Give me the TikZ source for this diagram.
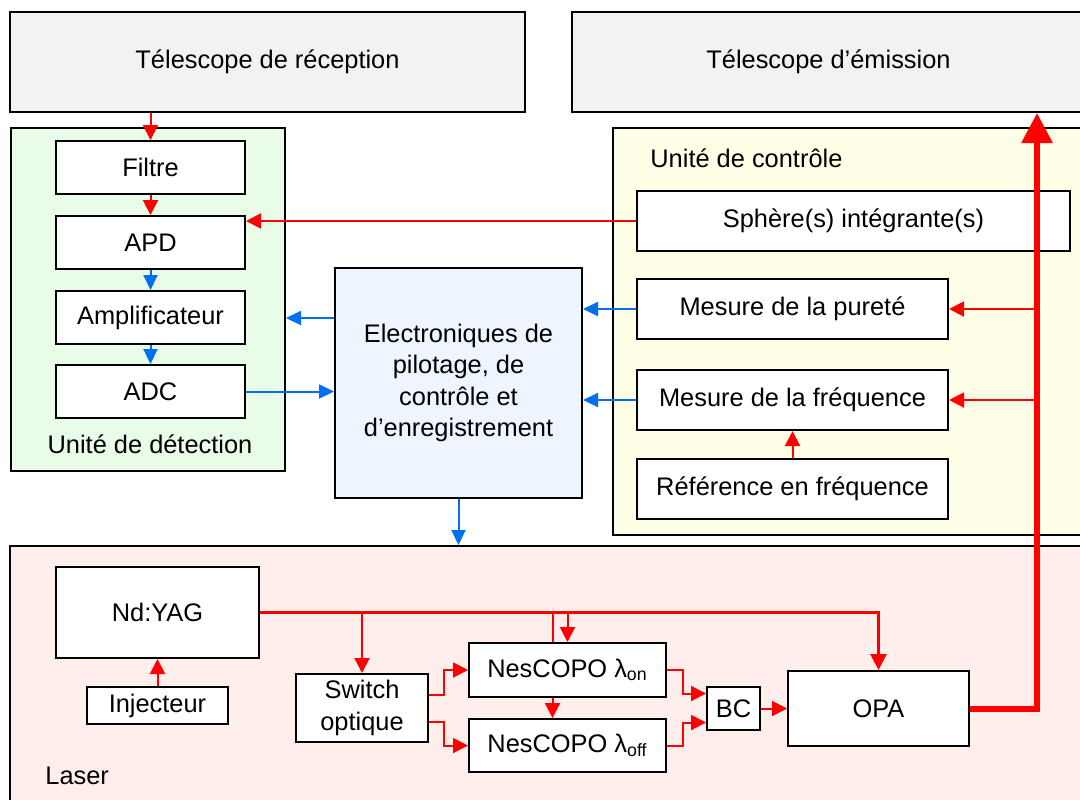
\documentclass[tikz,border=0pt]{standalone}
\usepackage{fontspec}
\setmainfont{Liberation Sans}
\usetikzlibrary{arrows.meta,calc}
\definecolor{rouge}{RGB}{255,0,0}
\definecolor{bleu}{RGB}{0,112,240}
\definecolor{gristel}{RGB}{242,242,242}
\definecolor{vertdet}{RGB}{232,252,232}
\definecolor{jaunectl}{RGB}{255,255,232}
\definecolor{bleuelec}{RGB}{238,245,255}
\definecolor{roselas}{RGB}{255,238,235}
\tikzset{
  blk/.style={draw, fill=white, line width=1pt, inner sep=0pt, align=center},
  unit/.style={draw, line width=1pt, inner sep=0pt},
  rln/.style={draw=rouge, line width=1pt},
  rfl/.style={rln, -{Triangle[length=7.5pt,width=7.5pt]}},
  bfl/.style={draw=bleu, line width=1pt, -{Triangle[length=7.5pt,width=7pt]}}
}

\begin{document}
\begin{tikzpicture}[x=0.5pt, y=-0.5pt, font=\fontsize{12.7}{15.7}\selectfont]
\clip (0,0) rectangle (1080,799);
\node[unit, fill=gristel, minimum width=257.5pt, minimum height=50pt] (telR) at (267.5,62) {Télescope de réception};
\node[unit, fill=gristel, minimum width=256.5pt, minimum height=50pt] (telE) at (828.5,62) {Télescope d’émission};
\node[unit, fill=vertdet, minimum width=137pt, minimum height=171.5pt] (det) at (148,299.5) {};
\node[unit, fill=jaunectl, minimum width=236pt, minimum height=203.5pt] (ctrl) at (849,331.5) {};
\node[unit, fill=roselas, minimum width=537.5pt, minimum height=132pt] (laser) at (547.5,678) {};
\node[unit, fill=bleuelec, minimum width=123.5pt, minimum height=115pt, align=center] (elec) at (458.5,383)
  {Electroniques de\\pilotage, de\\contrôle et\\d’enregistrement};

\node (detlbl) at (150,444) {Unité de détection};
\node[anchor=west, inner sep=0pt] (ctrllbl) at (650,158) {Unité de contrôle};
\node[anchor=west, inner sep=0pt] (laslbl) at (45,776) {Laser};

\foreach \nm/\txt/\yy in {filtre/Filtre/167.5, apd/APD/242.5, ampli/Amplificateur/317.5, adc/ADC/391.5}
  \node[blk, minimum width=94.5pt, minimum height=26.5pt] (\nm) at (150.5,\yy) {\txt};

\node[blk, minimum width=216.5pt, minimum height=30pt] (sphere) at (853.5,221) {Sphère(s) intégrante(s)};
\node[blk, minimum width=155.5pt, minimum height=30pt] (purete) at (792.5,309) {Mesure de la pureté};
\node[blk, minimum width=155.5pt, minimum height=30pt] (freq) at (792.5,400) {Mesure de la fréquence};
\node[blk, minimum width=155.5pt, minimum height=30pt] (ref) at (792.5,489) {Référence en fréquence};

\node[blk, minimum width=101.5pt, minimum height=45.5pt] (yag) at (157.5,612.5) {Nd:YAG};
\node[blk, minimum width=70.5pt, minimum height=18.5pt] (inj) at (157.5,705.5) {Injecteur};
\node[blk, minimum width=66pt, minimum height=34pt] (sw) at (362,708) {Switch\\optique};
\node[blk, minimum width=98.5pt, minimum height=27pt] (nesOn) at (567.5,670) {NesCOPO λ\textsubscript{on}};
\node[blk, minimum width=98.5pt, minimum height=26.5pt] (nesOff) at (567.5,745.5) {NesCOPO λ\textsubscript{off}};
\node[blk, minimum width=26.5pt, minimum height=21.5pt] (bc) at (733.5,708.5) {BC};
\node[blk, minimum width=90.5pt, minimum height=37.5pt] (opa) at (878.5,708.5) {OPA};

% detection
\draw[rfl] (telR.south -| filtre.north) -- (filtre.north);
\draw[rfl] (filtre.south) -- (apd.north);
\draw[bfl] (apd.south) -- (ampli.north);
\draw[bfl] (ampli.south) -- (adc.north);
\draw[bfl] (adc.east) -- (adc.east -| elec.west);
\draw[bfl] ([yshift=32.5pt]elec.west) -- ([yshift=32.5pt]elec.west -| det.east);
\draw[bfl] (elec.south) -- (elec.south |- laser.north);

% controle
\draw[rfl] (sphere.west) -- (sphere.west -| apd.east);
\draw[bfl] (purete.west) -- (purete.west -| elec.east);
\draw[bfl] (freq.west) -- (freq.west -| elec.east);
\draw[rfl] (ref.north) -- (freq.south);

% laser
\draw[rouge, line width=1.5pt, -{Triangle[length=8pt,width=8pt]}] (yag.east) -| (opa.north);
\draw[rfl] (sw.north |- yag.east) -- (sw.north);
\draw[rln] ([xshift=-7.5pt]nesOn.north |- yag.east) -- ([xshift=-7.5pt]nesOn.north);
\draw[rfl] (nesOn.north |- yag.east) -- (nesOn.north);
\draw[rfl] ([xshift=-7.5pt]nesOn.south) -- ([xshift=-7.5pt]nesOff.north);
\draw[rfl] ([yshift=6.5pt]sw.east) -- ++(15,0) |- (nesOn.west);
\draw[rfl] ([yshift=-7pt]sw.east) -- ++(15,0) |- (nesOff.west);
\draw[rfl] (nesOn.east) -- ++(16,0) |- ([yshift=7.5pt]bc.west);
\draw[rfl] (nesOff.east) -- ++(16,0) |- ([yshift=-7pt]bc.west);
\draw[rfl] (bc.east) -- (opa.west);
\draw[rfl] (inj.north) -- (yag.south);

\coordinate (riser) at (1037,0);
\draw[rouge, line width=3pt, -{Triangle[length=15pt,width=15pt]}] (opa.east) -| (riser |- telE.south);
\draw[rfl] (riser |- purete.east) -- (purete.east);
\draw[rfl] (riser |- freq.east) -- (freq.east);
\end{tikzpicture}
\end{document}
